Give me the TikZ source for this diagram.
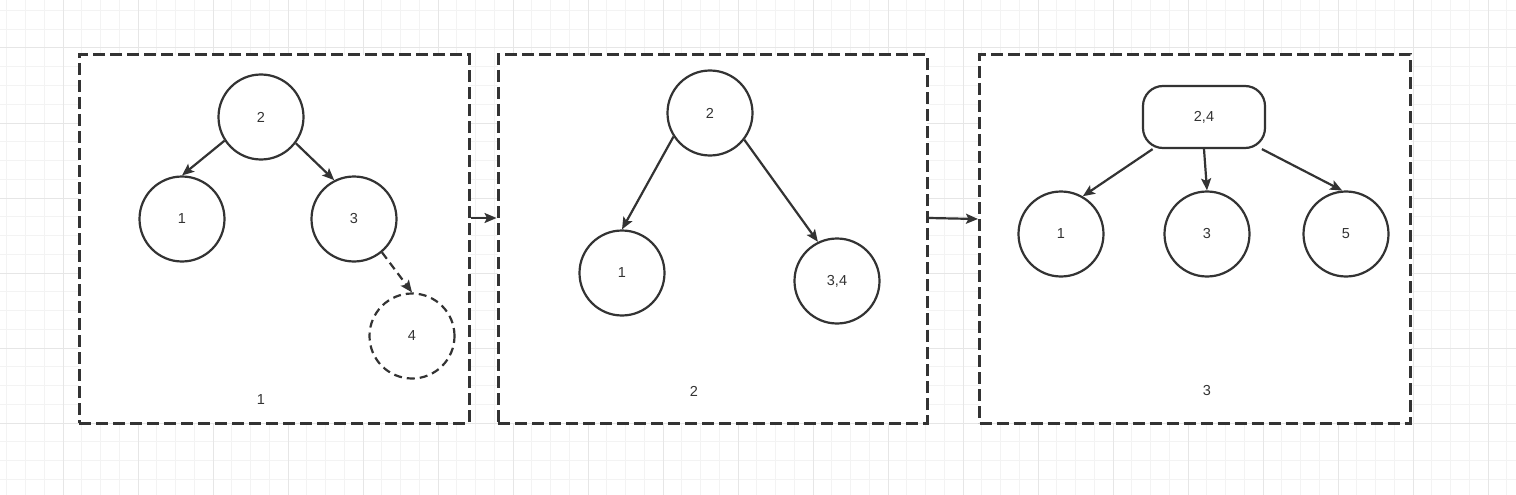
\documentclass[tikz,border=0pt]{standalone}
\usepackage{fontspec}
\setmainfont{Liberation Sans}
\usepackage{tikz}
\usetikzlibrary{arrows.meta, positioning}

\definecolor{inkgray}{HTML}{333333}
\definecolor{gridminor}{HTML}{F3F3F3}
\definecolor{gridmajor}{HTML}{E6E6E6}

\begin{document}
\begin{tikzpicture}[>={Stealth[length=12pt, width=10pt, inset=2.5pt]}, x=1pt, y=-1pt,
    treenode/.style={circle, draw=inkgray, fill=white, line width=2.2pt, minimum size=85pt, inner sep=0pt, text=inkgray, font=\fontsize{14.5}{16}\selectfont},
    ghostnode/.style={treenode, dash pattern=on 8pt off 5pt},
    mergenode/.style={treenode, rectangle, rounded corners=20pt, minimum width=122pt, minimum height=62pt},
    stepframe/.style={draw=inkgray, fill=white, line width=3pt, dash pattern=on 12pt off 5pt, inner sep=0pt},
    edge/.style={->, draw=inkgray, line width=2.2pt},
    steplabel/.style={text=inkgray, font=\fontsize{14.5}{16}\selectfont}]

    % --- 定義: 寸法 ---
    \def\W{1516}
    \def\H{495}
    \def\frameH{368}
    \def\frameY{239}

    % --- 背景グリッド ---
    \useasboundingbox (0,0) rectangle (\W,\H);
    \fill[white] (0,0) rectangle (\W,\H);
    \foreach \gx in {6.75,25.5,...,1516}
        \draw[gridminor, line width=1pt] (\gx,0) -- (\gx,\H);
    \foreach \gy in {10.5,29.25,...,495}
        \draw[gridminor, line width=1pt] (0,\gy) -- (\W,\gy);
    \foreach \gx in {63,138,...,1516}
        \draw[gridmajor, line width=1pt] (\gx,0) -- (\gx,\H);
    \foreach \gy in {48,123,...,495}
        \draw[gridmajor, line width=1pt] (0,\gy) -- (\W,\gy);

    % --- 3つのステップ枠 ---
    \node[stepframe, minimum width=390pt, minimum height=\frameH pt] (frame1) at (274,\frameY) {};
    \node[stepframe, minimum width=429pt, minimum height=\frameH pt] (frame2) at (712.5,\frameY) {};
    \node[stepframe, minimum width=431pt, minimum height=\frameH pt] (frame3) at (1195,\frameY) {};

    % --- ステップ 1 ---
    \node[treenode] (a2) at (261,117) {2};
    \node[treenode] (a1) at (182,219) {1};
    \node[treenode] (a3) at (354,219) {3};
    \node[ghostnode] (a4) at (412,336) {4};
    \draw[edge] (a2.213) -- (a1.north);
    \draw[edge] (a2.323) -- (a3.117);
    \draw[edge, dash pattern=on 8pt off 5pt] (a3.310) -- (a4.north);
    \node[steplabel] (lab1) at (261,400) {1};

    % --- ステップ 2 ---
    \node[treenode] (b2) at (710,113) {2};
    \node[treenode] (b1) at (622,273) {1};
    \node[treenode] (b34) at (837,281) {3,4};
    \draw[edge] (b2.213) -- (b1.north);
    \draw[edge] (b2.322) -- (b34.116);
    \node[steplabel] (lab2) at (694,391) {2};

    % --- ステップ 3 ---
    \node[mergenode] (c24) at (1204,117) {2,4};
    \node[treenode] (c1) at (1061,234) {1};
    \node[treenode] (c3) at (1207,234) {3};
    \node[treenode] (c5) at (1346,234) {5};
    \draw[edge] (c24.212) -- (c1.60);
    \draw[edge] (c24.south) -- (c3.north);
    \draw[edge] (c24.331) -- (c5.95);
    \node[steplabel] (lab3) at (1207,391) {3};

    % --- ステップ間の矢印 ---
    \draw[edge] ([yshift=21pt]frame1.east) -- ([yshift=21pt]frame2.west);
    \draw[edge] ([yshift=21pt]frame2.east) -- ([yshift=20pt]frame3.west);

\end{tikzpicture}
\end{document}
